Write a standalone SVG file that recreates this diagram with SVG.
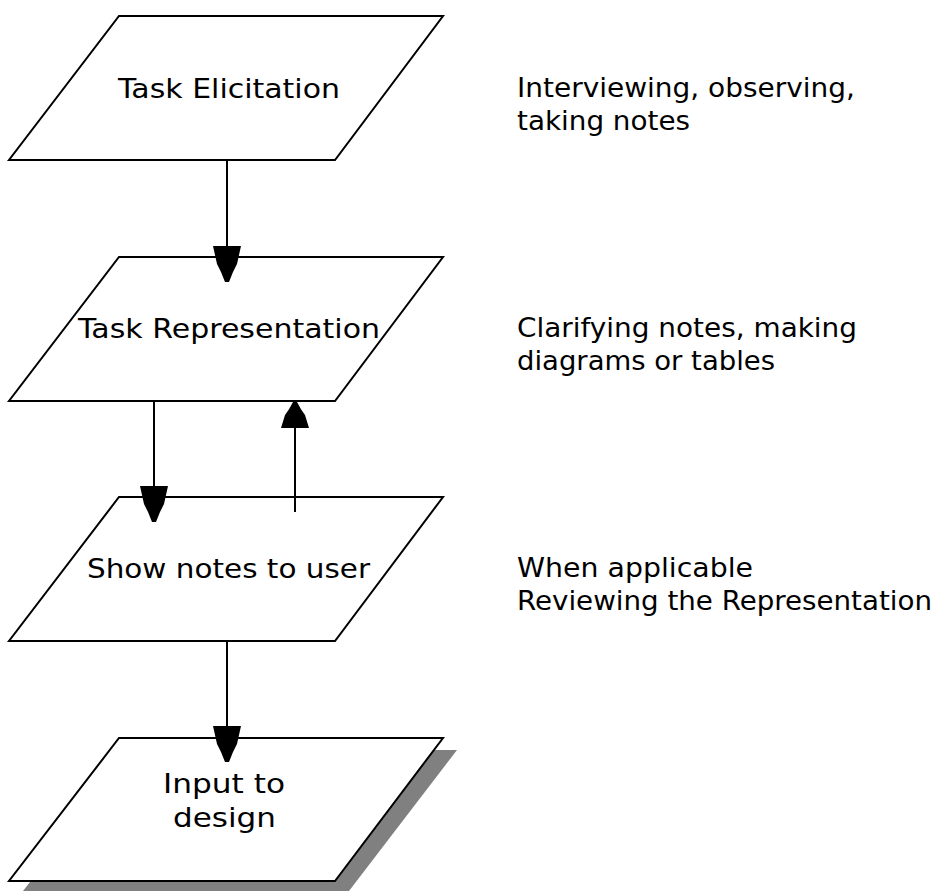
<svg xmlns="http://www.w3.org/2000/svg" width="936" height="891" viewBox="0 0 936 891">
<style>
.box{fill:#fff;stroke:#000;stroke-width:2}
.shadow{fill:#808080;stroke:none}
.lbl{font-family:"DejaVu Sans","Liberation Sans",sans-serif;font-size:27px;fill:#000;text-anchor:middle}
.note{font-family:"DejaVu Sans","Liberation Sans",sans-serif;font-size:26px;fill:#000}
.line{stroke:#000;stroke-width:2;fill:none}
.head{fill:#000;stroke:none}
</style>
<defs>
<polygon id="hd" points="-14,0 14,0 10,18 6,26 2,36 -2,36 -6,26 -10,18"/>
</defs>
<rect width="936" height="891" fill="#fff"/>
<g id="n1">
<polygon class="box" points="119,16 443,16 335,160 9,160"/>
<text class="lbl" x="229" y="98" textLength="222" lengthAdjust="spacingAndGlyphs">Task Elicitation</text>
</g>
<g id="n2">
<polygon class="box" points="119,257 443,257 335,401 9,401"/>
<text class="lbl" x="229" y="338" textLength="302" lengthAdjust="spacingAndGlyphs">Task Representation</text>
</g>
<g id="n3">
<polygon class="box" points="119,497 443,497 335,641 9,641"/>
<text class="lbl" x="228.5" y="578" textLength="283" lengthAdjust="spacingAndGlyphs">Show notes to user</text>
</g>
<g id="n4">
<polygon class="shadow" points="133,750 457,750 349,891 23,891"/>
<polygon class="box" points="119,738 443,738 335,881 9,881"/>
<text class="lbl" x="224" y="793" textLength="122" lengthAdjust="spacingAndGlyphs">Input to</text>
<text class="lbl" x="224.5" y="827" textLength="103" lengthAdjust="spacingAndGlyphs">design</text>
</g>
<g id="notes">
<text class="note" x="517" y="97" textLength="338" lengthAdjust="spacingAndGlyphs">Interviewing, observing,</text>
<text class="note" x="517" y="130" textLength="173" lengthAdjust="spacingAndGlyphs">taking notes</text>
<text class="note" x="517" y="337" textLength="340" lengthAdjust="spacingAndGlyphs">Clarifying notes, making</text>
<text class="note" x="517" y="370" textLength="258" lengthAdjust="spacingAndGlyphs">diagrams or tables</text>
<text class="note" x="517" y="577" textLength="236" lengthAdjust="spacingAndGlyphs">When applicable</text>
<text class="note" x="517" y="610" textLength="415" lengthAdjust="spacingAndGlyphs">Reviewing the Representation</text>
</g>
<g id="connectors">
<line class="line" x1="227" y1="160" x2="227" y2="250"/>
<use href="#hd" transform="translate(227,246)"/>
<line class="line" x1="154" y1="401" x2="154" y2="490"/>
<use href="#hd" transform="translate(154,486)"/>
<line class="line" x1="295" y1="512" x2="295" y2="420"/>
<use href="#hd" transform="translate(295,428) scale(1,-0.72)"/>
<line class="line" x1="227" y1="641" x2="227" y2="730"/>
<use href="#hd" transform="translate(227,726)"/>
</g>
</svg>
